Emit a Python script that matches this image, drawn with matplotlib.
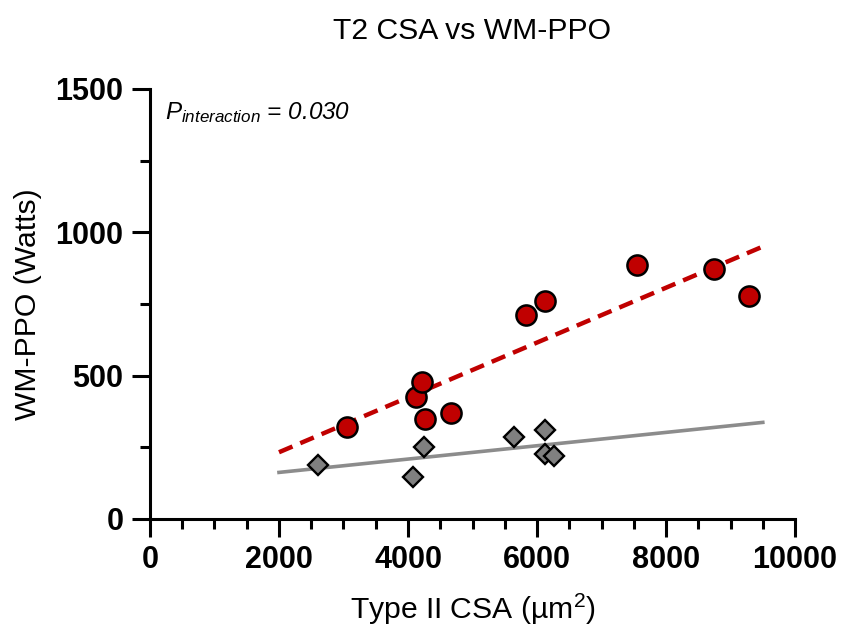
import numpy as np
import matplotlib
matplotlib.use('Agg')
import matplotlib.pyplot as plt
from matplotlib.ticker import MultipleLocator

plt.rcParams['font.family'] = ['Liberation Sans', 'DejaVu Sans']
plt.rcParams['mathtext.fontset'] = 'custom'
plt.rcParams['mathtext.rm'] = 'Liberation Sans'
plt.rcParams['mathtext.it'] = 'Liberation Sans:italic'

# Data
red_x = [3054, 4124, 4217, 4264, 4667, 5829, 6124, 7550, 8744, 9287]
red_y = [321, 426, 478, 349, 370, 710, 760, 886, 872, 778]
gray_x = [2605, 4078, 4248, 5643, 6124, 6124, 6264]
gray_y = [188, 146, 251, 286, 310, 227, 220]
fit_range = [2000, 9500]

title = 'T2 CSA vs WM-PPO'
xlabel = 'Type II CSA (µm$^2$)'
ylabel = 'WM-PPO (Watts)'
p_text = r'$P_{interaction}$ = 0.030'

red = '#C00000'
gray = '#808080'

fig = plt.figure(figsize=(8.44, 6.31), dpi=100)
ax = fig.add_axes([0.1777, 0.1775, 0.7643, 0.6815])

# Linear fits
fx = np.array(fit_range)
k_r, b_r = np.polyfit(red_x, red_y, 1)
k_g, b_g = np.polyfit(gray_x, gray_y, 1)
ax.plot(fx, k_r * fx + b_r, color=red, lw=3.2, ls=(0, (3.3, 1.9)), zorder=2)
ax.plot(fx, k_g * fx + b_g, color='#8c8c8c', lw=2.6, zorder=2)

ax.plot(gray_x, gray_y, 'D', ms=10.5, mfc=gray, mec='black', mew=1.7, zorder=3,
        clip_on=False)
ax.plot(red_x, red_y, 'o', ms=14.5, mfc=red, mec='black', mew=1.8, zorder=4,
        clip_on=False)

ax.set_xlim(0, 10000)
ax.set_ylim(0, 1500)
ax.xaxis.set_major_locator(MultipleLocator(2000))
ax.xaxis.set_minor_locator(MultipleLocator(500))
ax.yaxis.set_major_locator(MultipleLocator(500))
ax.yaxis.set_minor_locator(MultipleLocator(250))

for side in ['top', 'right']:
    ax.spines[side].set_visible(False)
for side in ['left', 'bottom']:
    ax.spines[side].set_linewidth(2.2)

ax.tick_params(which='major', length=13, width=2.2, labelsize=22, pad=6)
ax.tick_params(which='minor', length=7, width=2.2)
for lab in ax.get_xticklabels() + ax.get_yticklabels():
    lab.set_fontweight('bold')

ax.set_xlabel(xlabel, fontsize=21.7, labelpad=12)
ax.set_ylabel(ylabel, fontsize=21.7, labelpad=10)
ax.set_title(title, fontsize=21.7, pad=36)

ax.text(0.023, 0.945, p_text, transform=ax.transAxes, fontsize=17.5,
        style='italic', va='center', ha='left')

fig.savefig('out.png', dpi=100)
